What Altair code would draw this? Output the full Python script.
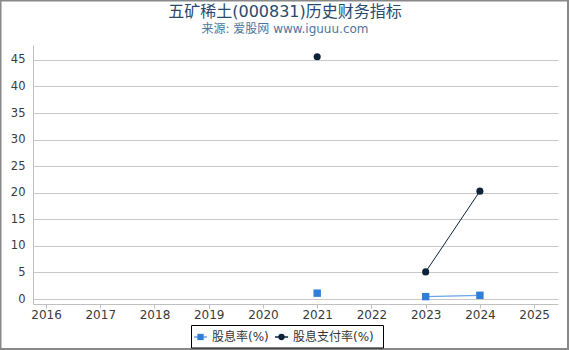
import altair as alt
import pandas as pd

title_text = "五矿稀土(000831)历史财务指标"
subtitle_text = "来源: 爱股网 www.iguuu.com"
years = [2021, 2022, 2023, 2024]
dividend_yield = [1.1, None, 0.45, 0.7]
payout_ratio = [45.6, None, 5.1, 20.3]
x_ticks = [2016, 2017, 2018, 2019, 2020, 2021, 2022, 2023, 2024, 2025]
y_ticks = [0, 5, 10, 15, 20, 25, 30, 35, 40, 45]
series_names = ["股息率(%)", "股息支付率(%)"]

BLUE = "#2f7ed8"
DARK = "#0d233a"
FONT = "DejaVu Sans, Noto Sans CJK SC"

W, H = 525, 259
L, T = 33, 45

df = pd.DataFrame({"year": years, "yield": dividend_yield, "payout": payout_ratio})

xs = alt.Scale(domain=[2015.76, 2025.44], nice=False, zero=False)
ys = alt.Scale(domain=[-0.94, 47.8], nice=False, zero=False)

xax = alt.Axis(values=x_ticks, format="d", title=None, grid=False, labelFont=FONT,
               labelFontSize=12, labelColor="#3a3a3a", domainColor="#c0c0c0",
               tickColor="#c0c0c0", tickSize=4, labelPadding=1, labelFlush=False,
               labelOverlap=False)
yax = alt.Axis(values=y_ticks, title=None, grid=True, gridColor="#c8c8c8", labelFont=FONT,
               labelFontSize=11.5, labelColor="#3a3a3a", domainColor="#c0c0c0", ticks=False,
               labelPadding=8, labelOverlap=False, labelFlush=False)

base = alt.Chart(df)

X = alt.X("year:Q", scale=xs, axis=xax)

yield_line = base.mark_line(color="#6aa3e8", strokeWidth=1.2, invalid="break-paths-show-domains").encode(
    x=X, y=alt.Y("yield:Q", scale=ys, axis=yax))
yield_pts = base.mark_point(shape="square", filled=True, color=BLUE, size=55, opacity=1).encode(
    x=X, y=alt.Y("yield:Q", scale=ys, axis=yax))
pay_line = base.mark_line(color=DARK, strokeWidth=1, invalid="break-paths-show-domains").encode(
    x=X, y=alt.Y("payout:Q", scale=ys, axis=yax))
pay_pts = base.mark_point(shape="circle", filled=True, color=DARK, size=50, opacity=1).encode(
    x=X, y=alt.Y("payout:Q", scale=ys, axis=yax))

def one(v):
    return alt.Chart(pd.DataFrame({"t": [v]}))

title = one(title_text).mark_text(font=FONT, fontSize=16, color="#274b6d", align="center",
                                  baseline="alphabetic").encode(
    text="t:N", x=alt.value(285 - L), y=alt.value(17 - T))
subtitle = one(subtitle_text).mark_text(font=FONT, fontSize=12, color="#4d759e", align="center",
                                        baseline="alphabetic").encode(
    text="t:N", x=alt.value(285 - L), y=alt.value(33 - T))

border = one("b").mark_rect(fill=None, stroke="#888888", strokeWidth=2).encode(
    x=alt.value(0 - L + 0.5), x2=alt.value(568 - L), y=alt.value(0 - T + 0.5), y2=alt.value(349 - T))

legbox = one("b").mark_rect(fill="white", stroke="#000000", strokeWidth=1).encode(
    x=alt.value(191.5 - L), x2=alt.value(383.5 - L), y=alt.value(325.5 - T), y2=alt.value(348 - T))
ly = 337 - T
leg1_line = one("a").mark_rule(color="#6aa3e8", strokeWidth=1.5).encode(
    x=alt.value(194 - L), x2=alt.value(207 - L), y=alt.value(ly))
leg1_pt = one("a").mark_point(shape="square", filled=True, color=BLUE, size=40, opacity=1).encode(
    x=alt.value(200.5 - L), y=alt.value(ly))
leg1_txt = one(series_names[0]).mark_text(font=FONT, fontSize=12, color="#333", align="left",
                                          baseline="middle").encode(
    text="t:N", x=alt.value(212 - L), y=alt.value(ly))
leg2_line = one("a").mark_rule(color=DARK, strokeWidth=1.5).encode(
    x=alt.value(275 - L), x2=alt.value(288 - L), y=alt.value(ly))
leg2_pt = one("a").mark_point(shape="circle", filled=True, color=DARK, size=40, opacity=1).encode(
    x=alt.value(281.5 - L), y=alt.value(ly))
leg2_txt = one(series_names[1]).mark_text(font=FONT, fontSize=12, color="#333", align="left",
                                          baseline="middle").encode(
    text="t:N", x=alt.value(293 - L), y=alt.value(ly))

chart = alt.layer(
    yield_line, pay_line, yield_pts, pay_pts, title, subtitle, border,
    legbox, leg1_line, leg1_pt, leg1_txt, leg2_line, leg2_pt, leg2_txt
).properties(
    width=W, height=H,
    autosize=alt.AutoSizeParams(type="none"),
    padding={"left": L, "top": T, "right": 570 - L - W, "bottom": 350 - T - H},
    background="white",
).configure_view(stroke=None)

chart.save("out.html", embed_options={"renderer": "svg", "actions": False})
